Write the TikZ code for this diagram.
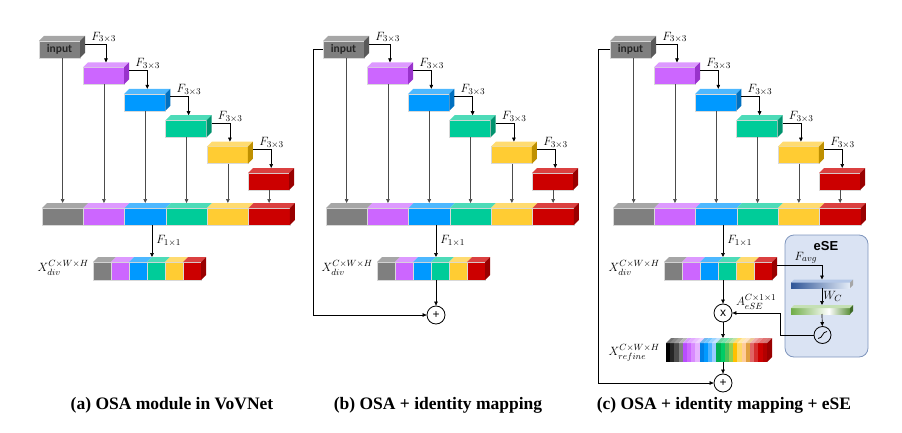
\documentclass[tikz,border=0pt]{standalone}
\usepackage{fontspec}
\usepackage{amsmath}
\newfontfamily\capfont{Liberation Serif}
\newfontfamily\boxfont{Carlito}
\newfontfamily\esefont{Liberation Sans}
\usetikzlibrary{positioning, arrows.meta, calc}

% feature map colours: front, top (T), side (S)
\definecolor{cgray}{HTML}{7F7F7F}\definecolor{cgrayT}{HTML}{A6A6A6}\definecolor{cgrayS}{HTML}{595959}
\definecolor{cpur}{HTML}{CC66FF}\definecolor{cpurT}{HTML}{DD99FF}\definecolor{cpurS}{HTML}{9933CC}
\definecolor{cblu}{HTML}{0099FF}\definecolor{cbluT}{HTML}{4DB8FF}\definecolor{cbluS}{HTML}{0070C0}
\definecolor{cgrn}{HTML}{00CC99}\definecolor{cgrnT}{HTML}{4DDBB8}\definecolor{cgrnS}{HTML}{00936E}
\definecolor{cyel}{HTML}{FFCC33}\definecolor{cyelT}{HTML}{FFDB70}\definecolor{cyelS}{HTML}{BF9000}
\definecolor{cred}{HTML}{CC0000}\definecolor{credT}{HTML}{DB4040}\definecolor{credS}{HTML}{990000}
\definecolor{eseFill}{HTML}{DAE3F3}\definecolor{eseLine}{HTML}{7F96BD}
\definecolor{sqL}{HTML}{2F5597}\definecolor{sqR}{HTML}{E4ECF7}\definecolor{sqT}{HTML}{B4C7E7}\definecolor{sqS}{HTML}{A6A6A6}
\definecolor{gL}{HTML}{70AD47}\definecolor{gR}{HTML}{5B8F3A}\definecolor{gT}{HTML}{C5E0B4}\definecolor{gS}{HTML}{3F6B28}
\pgfdeclarehorizontalshading{greenbar}{100bp}{color(0bp)=(gL); color(25bp)=(gL); color(57bp)=(white); color(75bp)=(gR); color(100bp)=(gR)}

% 3d faces of a box node: node, colour, depth
\newcommand\topface[3]{%
  \fill[#2] (#1.north west) -- ++(#3,-#3) -- ($(#1.north east)+(#3,-#3)$) -- (#1.north east) -- cycle;
  \coordinate (#1-t) at ($(#1.north)+(#3/2,-#3)$);}
\newcommand\sideface[3]{%
  \fill[#2] (#1.north east) -- ++(#3,-#3) -- ($(#1.south east)+(#3,-#3)$) -- (#1.south east) -- cycle;
  \coordinate (#1-o) at ($(#1.north east)+(#3,3)$);}

% common OSA part of one panel
\newcommand\osablock[1]{%
  \node[fmap, fill=cgray, anchor=north west, font=\boxfont\bfseries\fontsize{11.5}{13}\selectfont, text=black!85] (#1in) at (39,41) {input};
  \topface{#1in}{cgrayT}{5}\sideface{#1in}{cgrayS}{5}
  \foreach \n/\col/\colt/\cols/\x/\y in {l1/cpur/cpurT/cpurS/83/67.4, l2/cblu/cbluT/cbluS/124.3/93.8,
      l3/cgrn/cgrnT/cgrnS/165.6/120.2, l4/cyel/cyelT/cyelS/206.9/146.6, l5/cred/credT/credS/248.2/173}{
    \node[fmap, fill=\col, anchor=north west] (#1\n) at (\x,\y) {};
    \topface{#1\n}{\colt}{5}\sideface{#1\n}{\cols}{5}
  }
  % concatenated maps
  \foreach \col/\colt [count=\i] in {cgray/cgrayT, cpur/cpurT, cblu/cbluT, cgrn/cgrnT, cyel/cyelT, cred/credT}{
    \node[fmap, minimum width=41.3pt, fill=\col, anchor=north west] (#1b\i) at ({42+41.3*(\i-1)},208) {};
    \topface{#1b\i}{\colt}{5}
  }
  \sideface{#1b6}{credS}{5}
  \foreach \n [count=\i] in {in,l1,l2,l3,l4,l5}
    \draw[vline] (#1b\i.north |- #1\n.south) -- (#1b\i.north |- #1b\i-t);
  \foreach \a/\b in {in/l1, l1/l2, l2/l3, l3/l4, l4/l5}
    \draw[fline] (#1\a-o) -| (#1\b-t) node[pos=0, lab, anchor=south west, xshift=5pt] {$F_{3\times3}$};
  % 1x1 conv and diversified map
  \coordinate (#1mid) at (152,225);
  \foreach \col/\colt [count=\i] in {cgray/cgrayT, cpur/cpurT, cblu/cbluT, cgrn/cgrnT, cyel/cyelT, cred/credT}{
    \node[cell, fill=\col, anchor=north west] (#1d\i) at ({93+18*(\i-1)},262) {};
    \topface{#1d\i}{\colt}{5}
  }
  \sideface{#1d6}{credS}{5}
  \draw[fline] (#1mid) -- (#1mid |- #1d4-t) node[midway, lab, right=3pt] {$F_{1\times1}$};
  \node[lab, anchor=east] (#1xdiv) at ($(#1d1.west)+(-3,-3)$) {$X_{div}^{C\times W\times H}$};
}

\begin{document}
\begin{tikzpicture}[x=1pt, y=-1pt, >={Triangle[length=4pt, width=3.6pt]},
  fmap/.style={inner sep=0pt, outer sep=0pt, minimum width=41pt, minimum height=17pt, draw=white!85!black, line width=0.3pt},
  cell/.style={fmap, minimum width=18pt, minimum height=18pt},
  vline/.style={->, draw=black!70, line width=0.7pt},
  fline/.style={->, line width=0.7pt},
  op/.style={circle, draw, line width=0.8pt, minimum size=18pt, inner sep=0pt, font=\esefont\fontsize{12}{12}\selectfont},
  lab/.style={font=\fontsize{12.5}{14}\selectfont, inner sep=1pt},
  captxt/.style={font=\capfont\bfseries\fontsize{17.5}{20}\selectfont}]
\useasboundingbox (0,0) rectangle (902,433);

% (a)
\osablock{a}
\node[captxt] (capa) at (172,405) {(a) OSA module in VoVNet};

% (b)
\begin{scope}[xshift=284]
\osablock{b}
\node[op] (bplus) at (152,315) {+};
\node[captxt] (capb) at (154,405) {(b) OSA + identity mapping};
\end{scope}
\draw[fline] (bmid |- bd4.south) -- (bplus);
\draw[fline] (bin.west) -- ++(-10,0) |- (bplus);

% (c)
\begin{scope}[xshift=571]
\osablock{c}
\node[captxt] (capc) at (153,405) {(c) OSA + identity mapping + eSE};
\end{scope}
\node[op] (cx) at (723,313) {x};
\node[op] (cplus) at (723,383) {+};
\draw[fline] (cmid |- cd4.south) -- (cx);

% refined map
\node[inner sep=0pt, outer sep=0pt, minimum width=101pt, minimum height=19pt, anchor=north west] (cref) at (666,343) {};
\foreach \h [count=\i from 0] in {000000,262626,4D4D4D,808080, B84DFF,CC66FF,D98CFF,E6B3FF,
    0080E6,0099FF,4DB3FF,99CCFF, 00B050,00CC66,4DC25A,92D050, FFC000,FFD966,FFCC99,E0A040,
    E06666,D62E2E,CC0000,B30000}{
  \definecolor{tmp}{HTML}{\h}
  \fill[tmp] ($(cref.south west)+(\i*4.2,0)$) rectangle ++(4.25,-19);
  \fill[tmp!55!white] ($(cref.north west)+(\i*4.2,0)$) -- ++(5,-5) -- ++(4.25,0) -- ++(-5,5) -- cycle;
}
\sideface{cref}{credS}{5}
\coordinate (cref-t) at ($(cref.north)+(2.5,-5)$);
\node[lab, anchor=east] (xref) at ($(cref.west)+(-5,0)$) {$X_{refine}^{C\times W\times H}$};
\draw[fline] (cx) -- (cx.south |- cref-t);
\draw[fline] (cplus.north |- cref.south) -- (cplus);
\draw[fline] (cin.west) -- ++(-12,0) |- (cplus);

% eSE
\node[draw=eseLine, fill=eseFill, rounded corners=9pt, line width=0.8pt, minimum width=83pt, minimum height=122pt, inner sep=0pt] (ese) at (826.5,296) {};
\node[font=\esefont\bfseries\fontsize{13}{15}\selectfont] (esetitle) at (826,246) {eSE};
\node[inner sep=0pt, outer sep=0pt, minimum width=59pt, minimum height=5.5pt, anchor=north west, left color=sqL, right color=sqR] (sq) at (791,282.5) {};
\topface{sq}{sqT}{3}\sideface{sq}{sqS}{3}
\node[inner sep=0pt, outer sep=0pt, minimum width=59pt, minimum height=6pt, anchor=north west, shading=greenbar] (ex) at (791,308) {};
\topface{ex}{gT}{3}\sideface{ex}{gS}{3}
\node[op, minimum size=17pt] (sig) at (822.5,335) {};
\draw[line width=0.8pt] ($(sig.center)+(-4.5,3.5)$) .. controls ($(sig.center)+(0.5,3.5)$) and ($(sig.center)+(-0.5,-3.5)$) .. ($(sig.center)+(4.5,-3.5)$);
\draw[fline] (cd6-o) -| (sq-t) node[pos=0.32, lab, above] {$F_{avg}$};
\draw[fline] (sq-t |- sq.south) -- (sq-t |- ex-t) node[midway, lab, right] {$W_C$};
\draw[fline] (sq-t |- ex.south) -- (sig);
\draw[fline] (sig.west) -- ++(-33.5,0) |- (cx) node[pos=0.75, lab, above=2pt] {$A_{eSE}^{C\times1\times1}$};
\end{tikzpicture}
\end{document}
